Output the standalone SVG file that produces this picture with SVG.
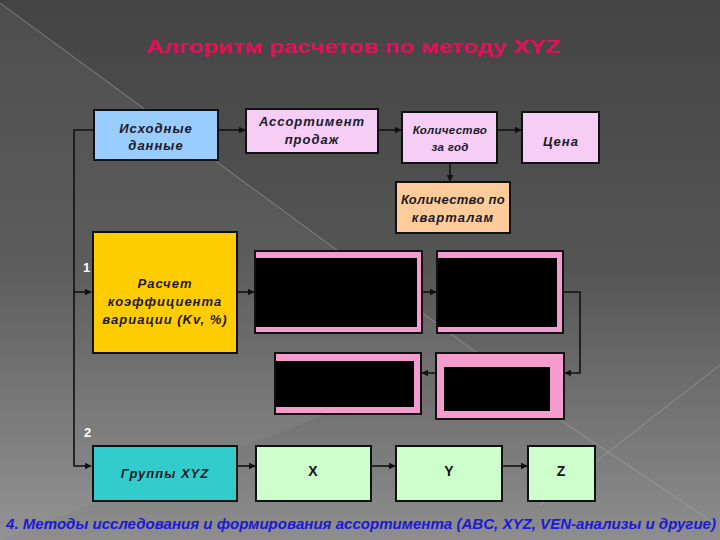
<svg xmlns="http://www.w3.org/2000/svg" width="720" height="540" viewBox="0 0 720 540">
<defs>
<linearGradient id="bg" x1="0" y1="0" x2="0" y2="1">
<stop offset="0" stop-color="#444444"/>
<stop offset="0.5" stop-color="#555555"/>
<stop offset="1" stop-color="#8e8e8e"/>
</linearGradient>
<marker id="ah" viewBox="0 0 10 10" refX="9" refY="5" markerWidth="7" markerHeight="7" markerUnits="userSpaceOnUse" orient="auto">
<path d="M0,0 L10,5 L0,10 z" fill="#111"/>
</marker>
<style>
.box{stroke:#111;stroke-width:2}
.t{font-family:"Liberation Sans",Arial,sans-serif;font-weight:bold;font-style:italic;font-size:13px;fill:#1a1a2a;text-anchor:middle;letter-spacing:1px}
.ts{font-family:"Liberation Sans",Arial,sans-serif;font-weight:bold;font-style:italic;font-size:11.5px;fill:#1a1a2a;text-anchor:middle;letter-spacing:0.3px}
.tx{font-family:"Liberation Sans",Arial,sans-serif;font-weight:bold;font-size:14px;fill:#111;text-anchor:middle}
.num{font-family:"Liberation Sans",Arial,sans-serif;font-weight:bold;font-size:13px;fill:#ffffff}
.c{fill:none;stroke:#111;stroke-width:1.6}
.deco{stroke:#a8a8a8;stroke-width:1;opacity:0.6}
.pink{fill:#f59ccf;stroke:#111;stroke-width:2}
</style>
</defs>
<rect width="720" height="540" fill="url(#bg)"/>
<polygon points="0,3 480,355 0,540" fill="#ffffff" opacity="0.05"/>
<line class="deco" x1="0" y1="3" x2="480" y2="355"/>
<line class="deco" x1="720" y1="365" x2="540" y2="505"/>
<line class="deco" x1="545" y1="410" x2="720" y2="527"/>

<text x="353" y="53" font-family="'Liberation Sans',Arial,sans-serif" font-weight="bold" font-size="19" fill="#e0105a" text-anchor="middle" textLength="414" lengthAdjust="spacingAndGlyphs">Алгоритм расчетов по методу XYZ</text>

<g id="connectors">
<polyline class="c" points="94,130 74,130 74,466 91,466" marker-end="url(#ah)"/>
<line class="c" x1="74" y1="292" x2="91" y2="292" marker-end="url(#ah)"/>
<line class="c" x1="218" y1="130" x2="245" y2="130" marker-end="url(#ah)"/>
<line class="c" x1="378" y1="130" x2="401" y2="130" marker-end="url(#ah)"/>
<line class="c" x1="497" y1="130" x2="521" y2="130" marker-end="url(#ah)"/>
<line class="c" x1="450" y1="163" x2="450" y2="181" marker-end="url(#ah)"/>
<line class="c" x1="237" y1="292" x2="254" y2="292" marker-end="url(#ah)"/>
<line class="c" x1="422" y1="292" x2="436" y2="292" marker-end="url(#ah)"/>
<polyline class="c" points="563,292 580,292 580,373 565,373" marker-end="url(#ah)"/>
<line class="c" x1="436" y1="373" x2="422" y2="373" marker-end="url(#ah)"/>
<line class="c" x1="237" y1="466" x2="255" y2="466" marker-end="url(#ah)"/>
<line class="c" x1="371" y1="466" x2="395" y2="466" marker-end="url(#ah)"/>
<line class="c" x1="502" y1="466" x2="527" y2="466" marker-end="url(#ah)"/>
</g>

<text class="num" x="83" y="272">1</text>
<text class="num" x="84" y="437">2</text>

<g id="iskhodnye">
<rect class="box" x="94" y="110" width="124" height="50" fill="#99ccff"/>
<text class="t" x="156" y="133">Исходные</text>
<text class="t" x="156" y="150">данные</text>
</g>
<g id="assortiment">
<rect class="box" x="246" y="109" width="132" height="44" fill="#f5cdf5"/>
<text class="t" x="312" y="126">Ассортимент</text>
<text class="t" x="312" y="144">продаж</text>
</g>
<g id="kolichestvo-god">
<rect class="box" x="402" y="112" width="95" height="51" fill="#f5cdf5"/>
<text class="ts" x="450" y="134">Количество</text>
<text class="ts" x="450" y="151">за год</text>
</g>
<g id="tsena">
<rect class="box" x="522" y="112" width="77" height="51" fill="#f5cdf5"/>
<text class="t" x="561" y="146">Цена</text>
</g>
<g id="kolichestvo-kvartal">
<rect class="box" x="396" y="182" width="114" height="51" fill="#ffcc99"/>
<text class="t" x="453" y="204" style="letter-spacing:0.3px">Количество по</text>
<text class="t" x="453" y="222">кварталам</text>
</g>
<g id="raschet">
<rect class="box" x="93" y="232" width="144" height="121" fill="#ffcc00"/>
<text class="t" x="165" y="288">Расчет</text>
<text class="t" x="165" y="306">коэффициента</text>
<text class="t" x="165" y="324">вариации (Kv, %)</text>
</g>
<g id="black1">
<rect class="pink" x="255" y="251" width="167" height="82"/>
<rect x="256" y="258" width="161" height="69" fill="#000"/>
</g>
<g id="black2">
<rect class="pink" x="437" y="251" width="126" height="82"/>
<rect x="438" y="258" width="119" height="69" fill="#000"/>
</g>
<g id="black3">
<rect class="pink" x="275" y="353" width="146" height="61"/>
<rect x="276" y="361" width="138" height="46" fill="#000"/>
</g>
<g id="black4">
<rect class="pink" x="436" y="353" width="128" height="66"/>
<rect x="444" y="367" width="106" height="44" fill="#000"/>
</g>
<g id="gruppy">
<rect class="box" x="93" y="446" width="144" height="55" fill="#33cccc"/>
<text class="t" x="165" y="478">Группы XYZ</text>
</g>
<g id="x">
<rect class="box" x="256" y="446" width="115" height="55" fill="#ccffcc"/>
<text class="tx" x="313" y="476">X</text>
</g>
<g id="y">
<rect class="box" x="396" y="446" width="106" height="55" fill="#ccffcc"/>
<text class="tx" x="449" y="476">Y</text>
</g>
<g id="z">
<rect class="box" x="528" y="446" width="67" height="55" fill="#ccffcc"/>
<text class="tx" x="561" y="476">Z</text>
</g>

<text x="6" y="529" font-family="'Liberation Sans',Arial,sans-serif" font-weight="bold" font-style="italic" font-size="14.5" fill="#1a1ad0" textLength="710" lengthAdjust="spacingAndGlyphs">4. Методы исследования и формирования ассортимента (ABC, XYZ, VEN-анализы и другие)</text>
</svg>
